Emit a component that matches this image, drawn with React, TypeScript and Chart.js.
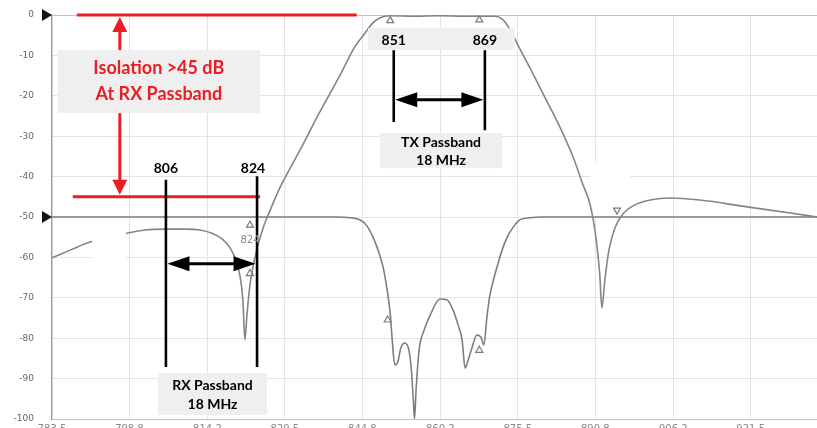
import { useEffect, useRef } from "react";
import { Chart, registerables } from "chart.js";

Chart.register(...registerables);

// Trace A: duplexer TX filter response (MHz, dB)
const freqA = [
  783.5, 787.1, 791.0, 798.3, 801.9, 805.8, 809.8, 812.7, 815.1, 817.1, 818.7, 819.8, 820.6, 821.2,
  821.6, 822.0, 822.6, 823.4, 824.2, 825.2, 826.6, 828.5, 832.5, 836.4, 840.4, 843.3, 845.3, 846.7,
  848.3, 850.3, 855.0, 860.1, 865.0, 871.0, 872.6, 874.0, 875.5, 877.9, 880.9, 883.8, 886.4, 888.4,
  889.8, 891.0, 891.7, 892.1, 892.7, 893.5, 894.7, 896.1, 898.6, 901.6, 905.6, 911.5, 920.8, 929.3,
  934.6,
];
const levelA = [
  -60.1, -58.2, -56.2, -54.0, -53.2, -53.0, -53.0, -53.2, -54.0, -55.4, -57.7, -60.6, -64.4, -70.5,
  -80.4, -74.3, -66.8, -61.1, -56.9, -52.7, -48.3, -42.8, -33.4, -24.0, -14.9, -7.9, -4.5, -2.2,
  -0.7, -0.2, -0.3, -0.2, -0.3, -0.3, -1.2, -3.7, -7.4, -13.1, -20.5, -27.7, -35.1, -42.1,
  -47.0, -55.7, -64.4, -72.5, -65.6, -58.2, -52.7, -49.5, -47.0, -45.8, -45.3, -45.8, -47.5, -49.0,
  -50.0,
];

// Trace B: isolation / RX path response (MHz, dB)
const freqB = [
  783.5, 839.8, 842.4, 844.3, 845.7, 846.9, 847.9, 848.9, 849.7, 850.3, 850.7, 851.2, 851.8, 852.4,
  853.2, 854.0, 854.5, 854.9, 855.1, 855.4, 856.0, 857.0, 858.2, 860.1, 861.5, 862.7, 863.7, 864.5,
  865.1, 865.7, 866.5, 867.4, 868.2, 868.8, 869.4, 870.0, 870.8, 871.4, 872.4, 873.4, 874.6, 875.9,
  877.9, 879.9, 934.6,
];
const levelB = [
  -50.0, -50.0, -50.2, -50.7, -52.2, -55.0, -58.2, -62.4, -68.1, -73.8, -80.4, -86.6, -85.9, -82.4,
  -81.2, -83.0, -88.0, -96.0, -100.0, -93.0, -83.0, -78.0, -74.3, -70.3, -70.5, -73.0, -76.7, -80.4,
  -87.4, -85.4, -82.2, -79.2, -79.7, -81.7, -74.8, -69.3, -65.1, -62.4, -58.2, -55.0, -52.5, -50.7,
  -50.2, -50.0, -50.0,
];

// Analyzer markers
const markerFreq = [850.3, 867.9, 822.6, 822.6, 849.8, 867.9, 895.1];
const markerLevel = [-1.4, -1.2, -52.0, -64.0, -75.5, -83.0, -48.3];
const markerRotation = [0, 0, 0, 0, 0, 0, 180];

// Axes
const xTicks = [783.5, 798.8, 814.2, 829.5, 844.8, 860.2, 875.5, 890.8, 906.2, 921.5];
const yTicks = [0, -10, -20, -30, -40, -50, -60, -70, -80, -90, -100];
const refLevels = [0, -50];

// Annotation values
const rxBand = [806, 824];
const txBand = [851, 869];
const isolationLevels = [0, -45];
const rxLabel = ["RX Passband", "18 MHz"];
const txLabel = ["TX Passband", "18 MHz"];
const isolationLabel = ["Isolation >45 dB", "At RX Passband"];

const RED = "#ec1c24";

function head(ctx: CanvasRenderingContext2D, tx: number, ty: number, dx: number, dy: number, len: number, hw: number) {
  const px = -dy, py = dx;
  ctx.beginPath();
  ctx.moveTo(tx, ty);
  ctx.lineTo(tx - dx * len + px * hw, ty - dy * len + py * hw);
  ctx.lineTo(tx - dx * len - px * hw, ty - dy * len - py * hw);
  ctx.closePath();
  ctx.fill();
}

const annotPlugin = {
  id: "annot",
  beforeDatasetsDraw(chart: any) {
    const { ctx } = chart;
    const X = (v: number) => chart.scales.x.getPixelForValue(v);
    const Y = (v: number) => chart.scales.y.getPixelForValue(v);
    ctx.save();
    ctx.fillStyle = "#ffffff";
    ctx.fillRect(X(889.8), Y(-36.6), X(897.7) - X(889.8), Y(-49.8) - Y(-36.6));
    ctx.restore();
  },
  afterDatasetsDraw(chart: any) {
    const { ctx } = chart;
    const X = (v: number) => chart.scales.x.getPixelForValue(v);
    const Y = (v: number) => chart.scales.y.getPixelForValue(v);
    ctx.save();

    // white patch over trace
    ctx.fillStyle = "#ffffff";
    ctx.fillRect(X(791.4), Y(-51.2), X(798.1) - X(791.4), Y(-68.6) - Y(-51.2));

    // Red isolation lines
    ctx.strokeStyle = RED;
    ctx.fillStyle = RED;
    ctx.lineWidth = 3;
    ctx.beginPath();
    ctx.moveTo(X(788.4), Y(isolationLevels[0]));
    ctx.lineTo(X(843.7), Y(isolationLevels[0]));
    ctx.moveTo(X(787.6), Y(isolationLevels[1]));
    ctx.lineTo(X(rxBand[1] + 0.6), Y(isolationLevels[1]));
    ctx.stroke();
    const ax = X(796.9);
    const top = Y(isolationLevels[0]) + 2;
    const bot = Y(isolationLevels[1]) - 2;
    ctx.beginPath();
    ctx.moveTo(ax, top + 10);
    ctx.lineTo(ax, bot - 10);
    ctx.stroke();
    head(ctx, ax, top, 0, -1, 15, 7.5);
    head(ctx, ax, bot, 0, 1, 15, 7.5);

    // Isolation box
    ctx.fillStyle = "#efefef";
    ctx.fillRect(X(784.6), Y(-8.7), X(824.6) - X(784.6), Y(-24.3) - Y(-8.7));
    ctx.fillStyle = RED;
    ctx.font = "bold 18px Lato";
    ctx.textAlign = "center";
    ctx.textBaseline = "middle";
    const icx = (X(784.6) + X(824.6)) / 2;
    ctx.fillText(isolationLabel[0], icx, Y(-13.2));
    ctx.fillText(isolationLabel[1], icx, Y(-19.6));

    // RX band
    ctx.strokeStyle = "#000";
    ctx.fillStyle = "#000";
    ctx.lineWidth = 2.6;
    const r0 = X(rxBand[0]);
    const r1 = X(rxBand[1]);
    ctx.beginPath();
    ctx.moveTo(r0, Y(-40.8));
    ctx.lineTo(r0, Y(-87.1));
    ctx.moveTo(r1, Y(-39.9));
    ctx.lineTo(r1, Y(-87.1));
    ctx.stroke();
    const ry = Y(-61.6);
    ctx.lineWidth = 3;
    ctx.beginPath();
    ctx.moveTo(r0 + 12, ry);
    ctx.lineTo(r1 - 12, ry);
    ctx.stroke();
    head(ctx, r0 + 1.5, ry, -1, 0, 22, 7.5);
    head(ctx, r1 - 1.5, ry, 1, 0, 22, 7.5);
    ctx.font = "bold 14px Lato";
    ctx.fillText(String(rxBand[0]), r0, Y(-37.9));
    ctx.fillText(String(rxBand[1]), r1 - 4, Y(-37.9));
    ctx.fillStyle = "#efefef";
    ctx.fillRect(X(804.4), Y(-88.6), X(826.0) - X(804.4), Y(-99.0) - Y(-88.6));
    ctx.fillStyle = "#000";
    const rcx = (X(804.4) + X(826.0)) / 2;
    ctx.fillText(rxLabel[0], rcx, Y(-91.7));
    ctx.fillText(rxLabel[1], rcx, Y(-96.4));

    // TX band
    const t0 = X(txBand[0]);
    const t1 = X(txBand[1]);
    ctx.fillStyle = "#efefef";
    ctx.fillRect(X(845.9), Y(-3.2), X(874.9) - X(845.9), Y(-8.7) - Y(-3.2));
    ctx.fillRect(X(848.3), Y(-29.2), X(872.4) - X(848.3), Y(-37.9) - Y(-29.2));
    ctx.fillStyle = "#000";
    ctx.fillText(String(txBand[0]), t0, Y(-6.2));
    ctx.fillText(String(txBand[1]), t1, Y(-6.2));
    ctx.lineWidth = 2.6;
    ctx.beginPath();
    ctx.moveTo(t0, Y(-8.7));
    ctx.lineTo(t0, Y(-26.5));
    ctx.moveTo(t1, Y(-8.7));
    ctx.lineTo(t1, Y(-28.5));
    ctx.stroke();
    const ty = Y(-21.0);
    ctx.lineWidth = 3;
    ctx.beginPath();
    ctx.moveTo(t0 + 12, ty);
    ctx.lineTo(t1 - 12, ty);
    ctx.stroke();
    head(ctx, t0 + 1.5, ty, -1, 0, 22, 7.5);
    head(ctx, t1 - 1.5, ty, 1, 0, 22, 7.5);
    const tcx = (X(848.3) + X(872.4)) / 2;
    ctx.fillText(txLabel[0], tcx, Y(-31.5));
    ctx.fillText(txLabel[1], tcx, Y(-36.0));

    // small marker label
    ctx.fillStyle = "#8a8a8a";
    ctx.font = "10px 'DejaVu Sans'";
    ctx.fillText("824", X(822.6), Y(-55.8));
    ctx.restore();
  },
  afterDraw(chart: any) {
    const { ctx } = chart;
    const Y = (v: number) => chart.scales.y.getPixelForValue(v);
    const left = chart.chartArea.left;
    ctx.save();
    ctx.fillStyle = "#111";
    refLevels.forEach((lv) => {
      const y = Y(lv);
      ctx.beginPath();
      ctx.moveTo(left - 10, y - 6);
      ctx.lineTo(left, y);
      ctx.lineTo(left - 10, y + 6);
      ctx.closePath();
      ctx.fill();
    });
    ctx.restore();
  },
};

export default function App() {
  const ref = useRef<HTMLCanvasElement | null>(null);
  useEffect(() => {
    if (!ref.current) return;
    const chart = new Chart(ref.current, {
      type: "line",
      data: {
        datasets: [
          {
            data: freqA.map((x, i) => ({ x, y: levelA[i] })),
            borderColor: "#858585",
            borderWidth: 1.6,
            pointRadius: 0,
            cubicInterpolationMode: "monotone",
          },
          {
            data: freqB.map((x, i) => ({ x, y: levelB[i] })),
            borderColor: "#7e7e7e",
            borderWidth: 1.6,
            pointRadius: 0,
            cubicInterpolationMode: "monotone",
          },
          {
            type: "scatter",
            data: markerFreq.map((x, i) => ({ x, y: markerLevel[i] })),
            showLine: false,
            pointStyle: "triangle",
            pointRadius: 4,
            pointRotation: markerRotation,
            borderColor: "#7a7a7a",
            backgroundColor: "#ffffff",
            borderWidth: 1.2,
          } as any,
        ],
      },
      options: {
        responsive: false,
        animation: false,
        layout: { autoPadding: false, padding: { top: 15, left: 0, right: 0, bottom: 0 } },
        plugins: { legend: { display: false }, tooltip: { enabled: false } },
        scales: {
          x: {
            type: "linear",
            min: 783.5,
            max: 934.6,
            afterBuildTicks: (s: any) => {
              s.ticks = xTicks.map((v) => ({ value: v }));
            },
            afterFit: (s: any) => {
              s.height = 16;
            },
            ticks: {
              autoSkip: false,
              maxRotation: 0,
              padding: 4,
              color: "#888",
              font: { family: "'DejaVu Sans'", size: 10 },
              callback: (v: any) => Number(v).toFixed(1),
            },
            grid: { color: "#e3e3e3", drawTicks: false },
            border: { display: false },
          },
          y: {
            type: "linear",
            min: -100,
            max: 0,
            afterBuildTicks: (s: any) => {
              s.ticks = yTicks.map((v) => ({ value: v }));
            },
            afterFit: (s: any) => {
              s.width = 52;
            },
            ticks: {
              padding: 3,
              color: "#666",
              font: { family: "'DejaVu Sans'", size: 9 },
              callback: (v: any) => String(v),
            },
            grid: {
              drawTicks: true,
              tickLength: 15,
              tickColor: "rgba(0,0,0,0)",
              color: (c: any) => (c.tick && (c.tick.value === 0 || c.tick.value === -100) ? "#c4c4c4" : "#e3e3e3"),
            },
            border: { color: "#9a9a9a", width: 1.2 },
          },
        },
      },
      plugins: [annotPlugin],
    });
    return () => chart.destroy();
  }, []);
  return (
    <div style={{ position: "fixed", left: 0, top: 0, width: 817, height: 428, overflow: "hidden", background: "#fff" }}>
      <canvas ref={ref} width={817} height={435} style={{ display: "block" }} />
    </div>
  );
}
